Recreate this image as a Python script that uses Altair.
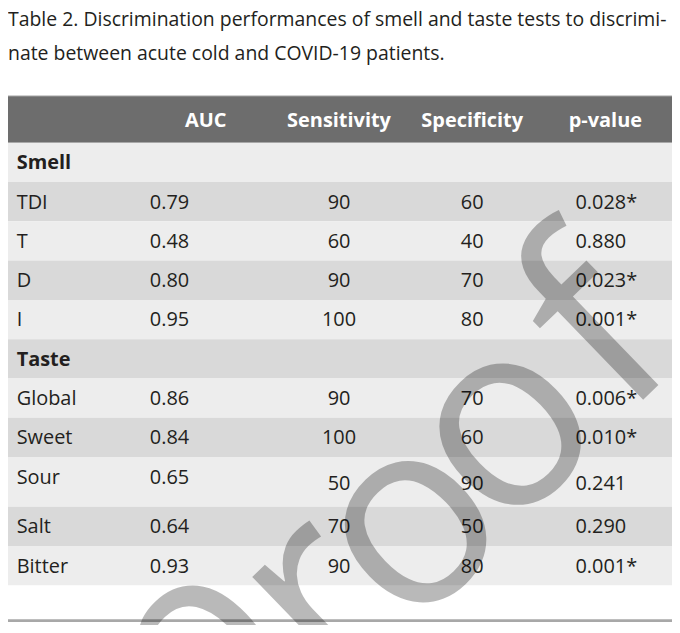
import altair as alt
import pandas as pd

# ---------------- data ----------------
title_lines = [
    "Table 2. Discrimination performances of smell and taste tests to discrimi-",
    "nate between acute cold and COVID-19 patients.",
]
header = ["", "AUC", "Sensitivity", "Specificity", "p-value"]
row_labels = ["Smell", "TDI", "T", "D", "I", "Taste", "Global", "Sweet", "Sour", "Salt", "Bitter"]
group_rows = ["Smell", "Taste"]
auc = [None, 0.79, 0.48, 0.80, 0.95, None, 0.86, 0.84, 0.65, 0.64, 0.93]
sensitivity = [None, 90, 60, 90, 100, None, 90, 100, 50, 70, 90]
specificity = [None, 60, 40, 70, 80, None, 70, 60, 90, 50, 80]
p_value = [None, 0.028, 0.880, 0.023, 0.001, None, 0.006, 0.010, 0.241, 0.290, 0.001]
watermark = "proof"

# ---------------- layout ----------------
FONT = "Open Sans"
W, H = 667, 617
UNIT = 39.45                  # px per table row
COLW = 133.8                  # px per table column
X_LEFT, Y_HEAD = 6, 95        # reference px of table left edge / header top
Y0 = -(Y_HEAD - 8) / UNIT     # top of chart in row units (header top = 0)
Y1 = Y0 + H / UNIT
HEADER_H = 47 / UNIT
row_heights = [1.0] * len(row_labels)
row_heights[row_labels.index("Sour")] = 50 / UNIT
LIGHT, DARK, HEAD = "#ededed", "#d9d9d9", "#6d6d6d"
TEXT = "#231f20"


def to_units(px, py):
    return (px - X_LEFT) / COLW, (py - Y_HEAD) / UNIT


xs = alt.Scale(domain=[0, 5], range=[-2, 667], nice=False, zero=False)
ys = alt.Scale(domain=[Y0, Y1], range=[0, H], nice=False, zero=False)


def X(f):
    return alt.X(f, type="quantitative", scale=xs, axis=None)


def Y(f):
    return alt.Y(f, type="quantitative", scale=ys, axis=None)


# ---------------- tables ----------------
bands = [{"y": 0.0, "y2": HEADER_H, "fill": HEAD, "x": 0, "x2": 5}]
rows = []
top = HEADER_H
for i, lab in enumerate(row_labels):
    h = row_heights[i]
    bands.append({"y": top, "y2": top + h, "fill": LIGHT if i % 2 == 0 else DARK, "x": 0, "x2": 5})
    tall = h > 1.01
    p = p_value[i]
    rows.append({
        "label": lab,
        "group": lab in group_rows,
        "ym": top + 0.5,
        "yv": top + (0.66 if tall else 0.5),
        "auc": "" if auc[i] is None else f"{auc[i]:.2f}",
        "sens": "" if sensitivity[i] is None else str(sensitivity[i]),
        "spec": "" if specificity[i] is None else str(specificity[i]),
        "p": "" if p is None else f"{p:.3f}" + ("*" if p < 0.05 else ""),
        "xl": 0.08, "xa": 1.08, "xs": 2.5, "xp": 3.5, "xv": 4.275,
    })
    top += h
bands_df = pd.DataFrame(bands)
rows_df = pd.DataFrame(rows)

head_df = pd.DataFrame({"text": header[1:], "x": [i + 1.5 for i in range(4)], "y": [HEADER_H / 2] * 4})
title_df = pd.DataFrame({"text": title_lines, "x": [0, 0], "y": [to_units(0, 25)[1], to_units(0, 59)[1]]})
rule_df = pd.DataFrame({
    "x": [0, 0], "x2": [5, 5],
    "y": [0, to_units(0, 622)[1]],
    "c": ["#a3a3a3", "#a8a8a8"], "w": [1.2, 2.6],
})

# watermark letters: approximate letter centres (reference px)
WM_ANGLE = 44
wm_centres = [(188, 648), (312, 594), (405, 520), (500, 422), (596, 326)]
wm_rows = []
for ch, (px, py) in zip(watermark, wm_centres):
    ux, uy = to_units(px, py)
    wm_rows.append({"text": ch, "x": ux, "y": uy})
wm_df = pd.DataFrame(wm_rows)

base_text = dict(font=FONT, fontSize=20, baseline="middle", dy=1)

bg = alt.Chart(bands_df).mark_rect().encode(
    x=X("x"), x2=alt.X2("x2"), y=Y("y"), y2=alt.Y2("y2"),
    color=alt.Color("fill:N", scale=None),
)
rules = alt.Chart(rule_df).mark_rule().encode(
    x=X("x"), x2=alt.X2("x2"), y=Y("y"),
    color=alt.Color("c:N", scale=None),
    strokeWidth=alt.StrokeWidth("w:Q", scale=None),
)
title = alt.Chart(title_df).mark_text(
    font=FONT, fontSize=19.5, align="left", baseline="alphabetic", dx=2, color=TEXT
).encode(x=X("x"), y=Y("y"), text="text:N")
head = alt.Chart(head_df).mark_text(
    font=FONT, fontSize=20, baseline="middle", dy=2, fontWeight="bold", align="center", color="white"
).encode(x=X("x"), y=Y("y"), text="text:N")
lab_bold = alt.Chart(rows_df).transform_filter("datum.group").mark_text(
    **base_text, fontWeight="bold", align="left", color=TEXT
).encode(x=X("xl"), y=Y("ym"), text="label:N")
lab_reg = alt.Chart(rows_df).transform_filter("!datum.group").mark_text(
    **base_text, align="left", color=TEXT
).encode(x=X("xl"), y=Y("ym"), text="label:N")
auc_t = alt.Chart(rows_df).mark_text(**base_text, align="left", color=TEXT).encode(
    x=X("xa"), y=Y("ym"), text="auc:N"
)
sens_t = alt.Chart(rows_df).mark_text(**base_text, align="center", color=TEXT).encode(
    x=X("xs"), y=Y("yv"), text="sens:N"
)
spec_t = alt.Chart(rows_df).mark_text(**base_text, align="center", color=TEXT).encode(
    x=X("xp"), y=Y("yv"), text="spec:N"
)
p_t = alt.Chart(rows_df).mark_text(**base_text, align="left", color=TEXT).encode(
    x=X("xv"), y=Y("yv"), text="p:N"
)
wm = alt.Chart(wm_df).mark_text(
    font=FONT, fontSize=262, angle=360 - WM_ANGLE, align="center", baseline="middle", dy=9,
    color="black", opacity=0.27
).encode(x=X("x"), y=Y("y"), text="text:N")

chart = alt.layer(bg, rules, title, head, lab_bold, lab_reg, auc_t, sens_t, spec_t, p_t, wm).properties(
    width=W, height=H, autosize=alt.AutoSizeParams(type="none"), padding=0, background="white"
).configure_view(stroke=None).configure_axis(disable=True)

chart.save("out.html", embed_options={"renderer": "svg", "actions": False})
